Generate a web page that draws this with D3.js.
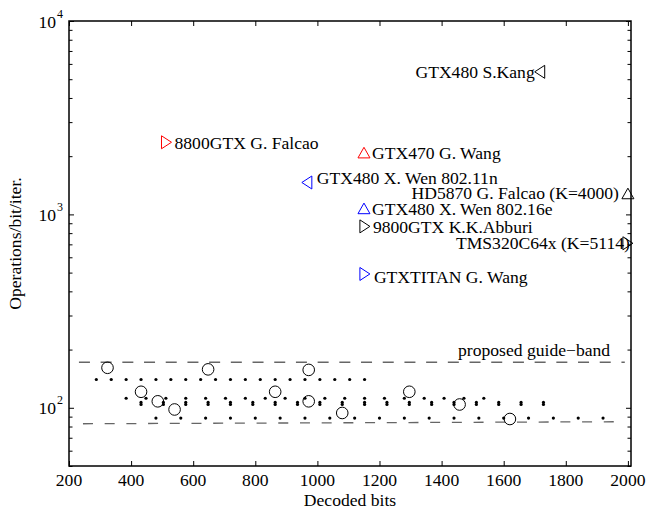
<!DOCTYPE html>
<html>
<head>
<meta charset="utf-8">
<script src="https://cdn.jsdelivr.net/npm/d3@7/dist/d3.min.js"></script>
<style>
  html, body { margin: 0; padding: 0; background: #fff; }
  svg { display: block; }
  text { font-family: "Liberation Serif", "Times New Roman", serif; fill: #000; }
</style>
</head>
<body>
<svg id="chart" width="657" height="511"></svg>
<script>
// ---------------- data ----------------
const xTickLabels = [200, 400, 600, 800, 1000, 1200, 1400, 1600, 1800, 2000];
const yTickExponents = [2, 3, 4];

// 802.16e codes (small dots), one series per code rate
const r12Bits = [288, 336, 384, 432, 480, 528, 576, 624, 672, 720, 768, 816, 864, 912, 960, 1008, 1056, 1104, 1152];
const r12Ops  = [140, 140, 140, 140, 140, 140, 140, 140, 140, 140, 140, 140, 140, 140, 140, 140, 140, 140, 140];
const r23Bits = [384, 448, 512, 576, 640, 704, 768, 832, 896, 960, 1024, 1088, 1152, 1216, 1280, 1344, 1408, 1472, 1536];
const r23Ops  = [112, 112, 112, 112, 112, 112, 112, 112, 112, 112, 112, 112, 112, 112, 112, 112, 112, 112, 112];
const r34Bits = [432, 504, 576, 648, 720, 792, 864, 936, 1008, 1080, 1152, 1224, 1296, 1368, 1440, 1512, 1584, 1656, 1728];
const r34aOps = [106.6, 106.6, 106.6, 106.6, 106.6, 106.6, 106.6, 106.6, 106.6, 106.6, 106.6, 106.6, 106.6, 106.6, 106.6, 106.6, 106.6, 106.6, 106.6];
const r34bOps = [104, 104, 104, 104, 104, 104, 104, 104, 104, 104, 104, 104, 104, 104, 104, 104, 104, 104, 104];
const r56Bits = [480, 560, 640, 720, 800, 880, 960, 1040, 1120, 1200, 1280, 1360, 1440, 1520, 1600, 1680, 1760, 1840, 1920];
const r56Ops  = [88.5, 88.5, 88.5, 88.5, 88.5, 88.5, 88.5, 88.5, 88.5, 88.5, 88.5, 88.5, 88.5, 88.5, 88.5, 88.5, 88.5, 88.5, 88.5];

// 802.11n codes (open circles)
const wifiBits = [324, 432, 486, 540, 648, 864, 972, 1080, 972, 1296, 1458, 1620];
const wifiOps  = [161, 121, 108, 98, 158, 121, 108, 94, 157, 121, 104, 87.5];

// published implementations (triangles)
const implNames = ["GTX480 S.Kang", "8800GTX G. Falcao", "GTX470 G. Wang", "GTX480 X. Wen 802.11n",
                   "HD5870 G. Falcao (K=4000)", "GTX480 X. Wen 802.16e", "9800GTX K.K.Abburi",
                   "TMS320C64x (K=5114)", "GTXTITAN G. Wang"];
const implBits = [1716, 514, 1150, 966, 2000, 1150, 1153, 2000, 1153];
const implOps  = [5460, 2360, 2087, 1462, 1283, 1074, 867, 709, 492];

// guide band (two dashed lines)
const bandUpperBits = [232, 1990];
const bandUpperOps  = [172, 172];
const bandLowerBits = [245, 1990];
const bandLowerOps  = [82.7, 84.7];
const bandLabel = "proposed guide\u2212band";

// ---------------- styles / layout ----------------
const implStyle = [
  {shape: "left",  color: "#000"},
  {shape: "right", color: "#ff0000"},
  {shape: "up",    color: "#ff0000"},
  {shape: "left",  color: "#0000ff"},
  {shape: "up",    color: "#000"},
  {shape: "up",    color: "#0000ff"},
  {shape: "right", color: "#000"},
  {shape: "right", color: "#000"},
  {shape: "right", color: "#0000ff"}
];
// label placement relative to marker: dx, dy (baseline), anchor
const implLabel = [
  {dx: -5, dy: 6, anchor: "end"},
  {dx: 8, dy: 6.5, anchor: "start"},
  {dx: 8, dy: 6.5, anchor: "start"},
  {dx: 10, dy: 1.5, anchor: "start"},
  {dx: -9, dy: 5.5, anchor: "end"},
  {dx: 8, dy: 7, anchor: "start"},
  {dx: 8, dy: 6.5, anchor: "start"},
  {dx: 2, dy: 6, anchor: "end"},
  {dx: 9, dy: 9, anchor: "start"}
];

const W = 657, H = 511;
const M = {left: 69, right: 631, top: 21, bottom: 466};
const FS = 17.6;

const svg = d3.select("#chart");
const x = d3.scaleLinear().domain([200, 2010]).range([M.left, M.right]);
const y = d3.scaleLog().domain([50, 10000]).range([M.bottom, M.top]);

// ---------------- axes ----------------
const yMajor = yTickExponents.map(e => Math.pow(10, e));
const yMinor = [];
[1, 2, 3].forEach(e => { for (let k = 2; k <= 9; k++) { const v = k * Math.pow(10, e); if (v >= 50 && v <= 10000) yMinor.push(v); } });

const gAx = svg.append("g");
function axisStyle(g) {
  g.select(".domain").remove();
  g.selectAll("line").attr("stroke", "#000").attr("stroke-width", 1);
}
gAx.append("g").attr("transform", `translate(0,${M.bottom})`)
  .call(d3.axisBottom(x).tickValues(xTickLabels).tickSize(-5).tickFormat("")).call(axisStyle);
gAx.append("g").attr("transform", `translate(0,${M.top})`)
  .call(d3.axisTop(x).tickValues(xTickLabels).tickSize(-5).tickFormat("")).call(axisStyle);
gAx.append("g").attr("transform", `translate(${M.left},0)`)
  .call(d3.axisLeft(y).tickValues(yMajor).tickSize(-5).tickFormat("")).call(axisStyle);
gAx.append("g").attr("transform", `translate(${M.left},0)`)
  .call(d3.axisLeft(y).tickValues(yMinor).tickSize(-3.5).tickFormat("")).call(axisStyle);
gAx.append("g").attr("transform", `translate(${M.right},0)`)
  .call(d3.axisRight(y).tickValues(yMajor).tickSize(-5).tickFormat("")).call(axisStyle);
gAx.append("g").attr("transform", `translate(${M.right},0)`)
  .call(d3.axisRight(y).tickValues(yMinor).tickSize(-3.5).tickFormat("")).call(axisStyle);

svg.append("rect").attr("x", M.left).attr("y", M.top)
  .attr("width", M.right - M.left).attr("height", M.bottom - M.top)
  .attr("fill", "none").attr("stroke", "#000").attr("stroke-width", 1.5);

// x tick labels
svg.append("g").selectAll("text").data(xTickLabels).join("text")
  .attr("x", d => x(d)).attr("y", M.bottom + 19.5)
  .attr("text-anchor", "middle").attr("font-size", FS).text(d => d);

// y tick labels 10^n
const yl = svg.append("g").selectAll("g").data(yTickExponents).join("g");
yl.append("text").attr("x", 56).attr("y", d => y(Math.pow(10, d)) + 6.5)
  .attr("text-anchor", "end").attr("font-size", FS).text("10");
yl.append("text").attr("x", 57).attr("y", d => y(Math.pow(10, d)) - 3.5)
  .attr("font-size", 12).text(d => d);

// axis titles
svg.append("text").attr("x", (M.left + M.right) / 2).attr("y", 506)
  .attr("text-anchor", "middle").attr("font-size", FS).text("Decoded bits");
svg.append("text")
  .attr("transform", `translate(20.5,${(M.top + M.bottom) / 2}) rotate(-90)`)
  .attr("text-anchor", "middle").attr("font-size", FS).text("Operations/bit/iter.");

// ---------------- guide band ----------------
const line = d3.line().x(d => x(d[0])).y(d => y(d[1]));
svg.append("path").datum(d3.zip(bandUpperBits, bandUpperOps)).attr("d", line)
  .attr("fill", "none").attr("stroke", "#666").attr("stroke-width", 1.3)
  .attr("stroke-dasharray", "11,10.7");
svg.append("path").datum(d3.zip(bandLowerBits, bandLowerOps)).attr("d", line)
  .attr("fill", "none").attr("stroke", "#666").attr("stroke-width", 1.3)
  .attr("stroke-dasharray", "10,11.7");
svg.append("text").attr("x", 458).attr("y", 356).attr("font-size", FS).text(bandLabel);

// ---------------- dots ----------------
const dotSeries = [[r12Bits, r12Ops], [r23Bits, r23Ops], [r34Bits, r34aOps], [r34Bits, r34bOps], [r56Bits, r56Ops]];
const gDots = svg.append("g");
dotSeries.forEach(([xs, ys]) => {
  gDots.selectAll(null).data(d3.zip(xs, ys)).join("circle")
    .attr("cx", d => x(d[0])).attr("cy", d => y(d[1])).attr("r", 1.6).attr("fill", "#000");
});

// ---------------- circles ----------------
svg.append("g").selectAll("circle").data(d3.zip(wifiBits, wifiOps)).join("circle")
  .attr("cx", d => x(d[0])).attr("cy", d => y(d[1])).attr("r", 5.8)
  .attr("fill", "none").attr("stroke", "#000").attr("stroke-width", 1);

// ---------------- implementations ----------------
function tri(shape) {
  if (shape === "up") return "M0,-5.3 L6,5.3 L-6,5.3 Z";
  if (shape === "right") return "M5,0 L-5,-6.5 L-5,6.5 Z";
  return "M-5,0 L5,-6.5 L5,6.5 Z";
}
const impl = implNames.map((n, i) => ({name: n, bx: implBits[i], op: implOps[i], st: implStyle[i], lb: implLabel[i]}));
const gi = svg.append("g").selectAll("g").data(impl).join("g")
  .attr("transform", d => `translate(${x(d.bx)},${y(d.op)})`);
gi.append("path").attr("d", d => tri(d.st.shape))
  .attr("fill", "none").attr("stroke", d => d.st.color).attr("stroke-width", 1);
gi.append("text").attr("x", d => d.lb.dx).attr("y", d => d.lb.dy)
  .attr("text-anchor", d => d.lb.anchor).attr("font-size", FS).text(d => d.name);
</script>
</body>
</html>
